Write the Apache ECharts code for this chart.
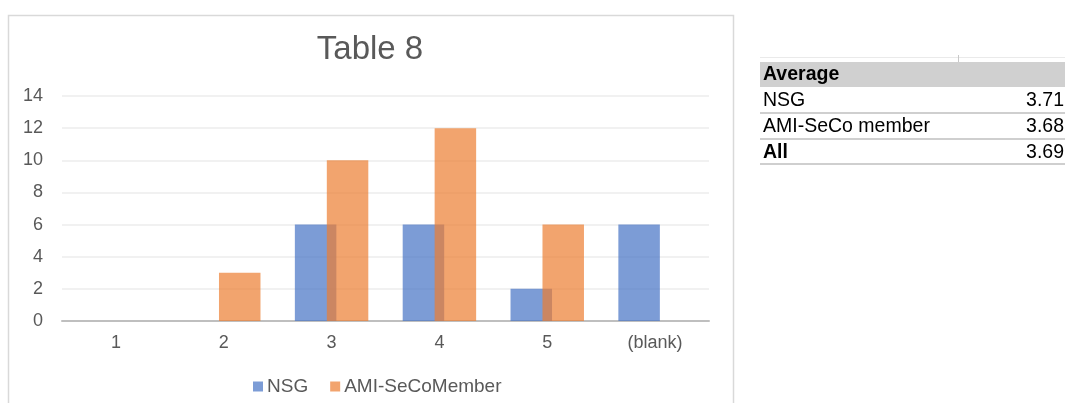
<!DOCTYPE html>
<html>
<head>
<meta charset="utf-8">
<script src="https://cdn.jsdelivr.net/npm/echarts@6/dist/echarts.min.js"></script>
<style>
html,body{margin:0;padding:0;background:#fff;}
#chart{width:1067px;height:403px;}
</style>
</head>
<body>
<div id="chart"></div>
<script>
var categories = ['1', '2', '3', '4', '5', '(blank)'];
var nsgValues = [0, 0, 6, 6, 2, 6];
var amiValues = [0, 3, 10, 12, 6, 0];
var seriesNames = ['NSG', 'AMI-SeCoMember'];
var yTicks = [0, 2, 4, 6, 8, 10, 12, 14];
var tableHeader = 'Average';
var tableLabels = ['NSG', 'AMI-SeCo member', 'All'];
var tableValues = ['3.71', '3.68', '3.69'];
var tableBold = [false, false, true];

var FONT = '"Liberation Sans", Arial, sans-serif';
var chart = echarts.init(document.getElementById('chart'), null, {renderer: 'canvas'});

var graphics = [
  {type: 'rect', shape: {x: 8.5, y: 15.5, width: 725, height: 420}, style: {fill: 'none', stroke: '#D9D9D9', lineWidth: 1.5}, silent: true, z: -10},
  {type: 'line', shape: {x1: 760, y1: 57.5, x2: 1065, y2: 57.5}, style: {stroke: '#EAEAEA', lineWidth: 1}},
  {type: 'line', shape: {x1: 958.5, y1: 55, x2: 958.5, y2: 62}, style: {stroke: '#C8C8C8', lineWidth: 1}},
  {type: 'rect', shape: {x: 760, y: 62, width: 305, height: 25}, style: {fill: '#D0D0D0'}},
  {type: 'text', x: 763, y: 75, style: {text: tableHeader, font: 'bold 19.5px ' + FONT, fill: '#000', verticalAlign: 'middle', align: 'left'}}
];
var rowCenters = [101, 127, 153];
var rowLines = [113, 139, 164];
for (var i = 0; i < tableLabels.length; i++) {
  graphics.push({type: 'text', x: 763, y: rowCenters[i], style: {text: tableLabels[i], font: (tableBold[i] ? 'bold ' : '') + '19.5px ' + FONT, fill: '#000', verticalAlign: 'middle', align: 'left'}});
  graphics.push({type: 'text', x: 1064, y: rowCenters[i], style: {text: tableValues[i], font: '19.5px ' + FONT, fill: '#000', verticalAlign: 'middle', align: 'right'}});
  graphics.push({type: 'line', shape: {x1: 760, y1: rowLines[i], x2: 1065, y2: rowLines[i]}, style: {stroke: '#CFCFCF', lineWidth: 2}});
}

var option = {
  backgroundColor: '#fff',
  animation: false,
  title: {
    text: 'Table 8',
    left: 370, textAlign: 'center',
    top: 33, padding: 0,
    textStyle: {fontFamily: FONT, fontSize: 33, fontWeight: 'normal', color: '#595959'}
  },
  legend: {
    data: seriesNames,
    left: 248, top: 372,
    itemWidth: 10, itemHeight: 10, itemGap: 22,
    icon: 'rect',
    textStyle: {fontFamily: FONT, fontSize: 19, color: '#595959', padding: [0, 0, 0, -1]}
  },
  grid: {left: 62, right: 358, top: 96, bottom: 82, containLabel: false},
  xAxis: {
    type: 'category',
    data: categories,
    axisLine: {lineStyle: {color: '#BFBFBF', width: 2}},
    axisTick: {show: false},
    axisLabel: {fontFamily: FONT, fontSize: 18, color: '#595959', margin: 13}
  },
  yAxis: {
    type: 'value',
    min: yTicks[0], max: yTicks[yTicks.length - 1], interval: 2,
    axisLine: {show: false},
    axisTick: {show: false},
    splitLine: {lineStyle: {color: '#EDEDED', width: 1.5}},
    axisLabel: {fontFamily: FONT, fontSize: 18, color: '#595959', margin: 19}
  },
  series: [
    {name: seriesNames[0], type: 'bar', data: nsgValues, barWidth: 41.5, barGap: '-23%',
     itemStyle: {color: 'rgba(68,114,196,0.7)'}},
    {name: seriesNames[1], type: 'bar', data: amiValues, barWidth: 41.5, barGap: '-23%',
     itemStyle: {color: 'rgba(237,125,49,0.7)'}}
  ],
  graphic: graphics
};
chart.setOption(option);
</script>
</body>
</html>
